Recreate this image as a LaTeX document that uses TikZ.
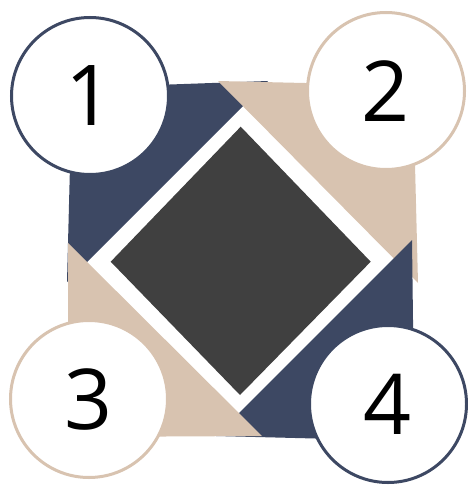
\documentclass[tikz,border=0pt]{standalone}
\usepackage{fontspec}
\setmainfont{Open Sans}
\definecolor{navy}{HTML}{3D4863}
\definecolor{sand}{HTML}{D8C3B0}
\definecolor{slate}{HTML}{404040}
\begin{document}
\begin{tikzpicture}[x=1pt, y=-1pt,
   disc/.style={circle, draw, line width=3pt, fill=white, minimum size=157pt,
     inner sep=0pt, font=\fontsize{84}{84}\selectfont},
   blue disc/.style={disc, draw=navy},
   sand disc/.style={disc, draw=sand}]
\useasboundingbox (0,0) rectangle (467,486);
% corner triangles
\fill[navy] (72,88) -- (268,81) -- (67,282) -- cycle;
\fill[sand] (218,81) -- (413,85.5) -- (418,283) -- cycle;
\fill[navy] (412,240) -- (414.5,441) -- (216,436) -- cycle;
\fill[sand] (68,243) -- (68,437) -- (262,436) -- cycle;
% diamond
\fill[white] (241.7,108.3) -- (390.5,257.5) -- (238.3,411.7) -- (90,263.3) -- cycle;
\fill[slate] (240.7,126.7) -- (370.7,261.7) -- (240,395) -- (110.7,261.7) -- cycle;
% numbers
\node[blue disc] (n1) at (90,96)  {1};
\node[sand disc] (n2) at (386,91) {2};
\node[sand disc] (n3) at (89,399) {3};
\node[blue disc] (n4) at (388,404) {4};
\end{tikzpicture}
\end{document}
